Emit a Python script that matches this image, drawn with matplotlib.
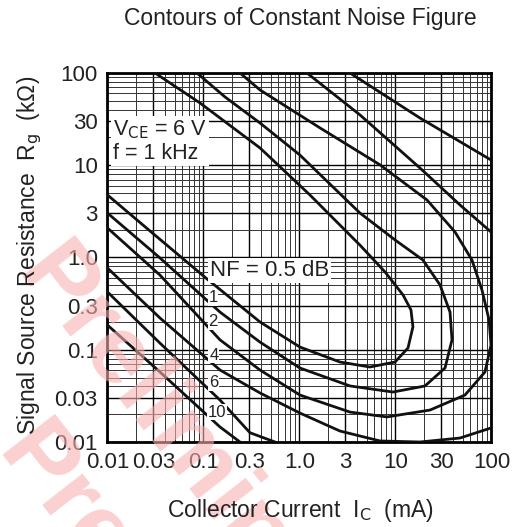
import matplotlib.pyplot as plt
import numpy as np

plt.rcParams['font.family'] = ['Liberation Sans', 'DejaVu Sans']

# contour data: collector current (mA), source resistance (kOhm)
nf05_ic = [0.01, 0.0277, 0.11, 0.388, 1.01, 2.64, 5.42, 9.89, 13.5, 15.2, 14.5, 12.0, 7.78, 4.27, 1.285, 0.388, 0.092, 0.0313]
nf05_rg = [4.76, 1.94, 0.58, 0.20, 0.107, 0.0736, 0.065, 0.0736, 0.1045, 0.177, 0.27, 0.392, 0.697, 1.36, 4.76, 15.4, 47.3, 100]

nf1_ic = [0.01, 0.0352, 0.1486, 0.388, 1.01, 3.36, 9.43, 20.3, 32.8, 38.8, 37.0, 29.1, 19.3, 9.89, 4.27, 1.01, 0.388, 0.1675, 0.0855]
nf1_rg = [3.03, 0.989, 0.256, 0.121, 0.0634, 0.0405, 0.0348, 0.0405, 0.0634, 0.128, 0.256, 0.504, 0.94, 1.55, 3.03, 12.9, 28.7, 55, 100]

nf2_ic = [0.01, 0.0352, 0.1486, 0.388, 1.01, 3.36, 8.15, 22.9, 53.0, 85.5, 98.9, 94.4, 79.6, 62.6, 41.7, 21.3, 6.90, 1.635, 0.388, 0.24]
nf2_rg = [2.09, 0.645, 0.128, 0.0603, 0.0323, 0.0211, 0.0187, 0.0222, 0.0323, 0.0574, 0.1125, 0.21, 0.445, 0.94, 1.89, 4.20, 10.1, 25.4, 65.5, 100]

nf4_lo_ic = [0.01, 0.0352, 0.1486, 0.388, 1.01, 2.64, 6.90, 18.0, 47.0, 98.9]
nf4_lo_rg = [0.769, 0.221, 0.0603, 0.034, 0.0206, 0.01315, 0.01026, 0.0100, 0.01104, 0.0142]
nf4_hi_ic = [1.197, 4.27, 18.0, 47.0, 98.9]
nf4_hi_rg = [100, 35.1, 9.33, 3.71, 1.89]

nf6_lo_ic = [0.01, 0.0352, 0.1486, 0.305, 0.556]
nf6_lo_rg = [0.423, 0.118, 0.0285, 0.0126, 0.01]
nf6_hi_ic = [3.36, 18.0, 98.9]
nf6_hi_rg = [100, 32.5, 11.4]

nf10_ic = [0.01, 0.0352, 0.1486, 0.24]
nf10_rg = [0.185, 0.0574, 0.01455, 0.01]

tick_vals = [0.01, 0.03, 0.1, 0.3, 1.0, 3, 10, 30, 100]
tick_labels = ['0.01', '0.03', '0.1', '0.3', '1.0', '3', '10', '30', '100']

# curve labels (text, x, y)
nf_labels = [('1', 0.126, 0.364), ('2', 0.126, 0.20), ('4', 0.128, 0.0877),
             ('6', 0.128, 0.0437), ('10', 0.138, 0.0211)]

fig = plt.figure(figsize=(5.18, 5.27), dpi=100)
ax = fig.add_axes([0.2075, 0.1613, 0.7413, 0.7002])
ax.set_facecolor('none')

# watermark behind everything
fig.text(0.0, 0.56, 'Preliminary', fontsize=70, fontweight='bold', color='#f9b0b0',
         alpha=0.6, rotation=-52, ha='left', va='top', zorder=0)
fig.text(-0.04, 0.22, 'Preliminary', fontsize=70, fontweight='bold', color='#f9b0b0',
         alpha=0.6, rotation=-52, ha='left', va='top', zorder=0)

ax.set_xscale('log')
ax.set_yscale('log')
ax.set_xlim(0.01, 100)
ax.set_ylim(0.01, 100)

ax.grid(True, which='major', color='black', lw=1.0)
ax.grid(True, which='minor', color='#333333', lw=0.7)
ax.set_axisbelow(True)

lw = 2.0
for xs, ys in [(nf05_ic, nf05_rg), (nf1_ic, nf1_rg), (nf2_ic, nf2_rg),
               (nf4_lo_ic, nf4_lo_rg), (nf4_hi_ic, nf4_hi_rg),
               (nf6_lo_ic, nf6_lo_rg), (nf6_hi_ic, nf6_hi_rg),
               (nf10_ic, nf10_rg)]:
    ax.plot(xs, ys, color='#111111', lw=lw, zorder=3)

ax.set_xticks(tick_vals)
ax.set_xticklabels(tick_labels)
ax.set_yticks(tick_vals)
ax.set_yticklabels(tick_labels)
ax.tick_params(which='both', length=0, labelsize=16, pad=7, colors='#222222')
for s in ax.spines.values():
    s.set_linewidth(2.0)

box = dict(facecolor='white', edgecolor='none', pad=1.5)
ax.text(0.0114, 18.1, 'V$_{\\mathrm{CE}}$ = 6 V\nf = 1 kHz', fontsize=15.5, va='center',
        ha='left', bbox=box, zorder=4, linespacing=1.1, color='#222222')
ax.text(0.117, 0.73, 'NF = 0.5 dB', fontsize=16, va='center', ha='left',
        bbox=box, zorder=4, color='#222222')
for t, x, y in nf_labels:
    ax.text(x, y, t, fontsize=12, va='center', ha='center',
            bbox=dict(facecolor='white', edgecolor='none', pad=0.5), zorder=4, color='#222222')

fig.text(0.58, 0.965, 'Contours of Constant Noise Figure', fontsize=16.5,
         ha='center', va='center', color='#222222')
fig.text(0.579, 0.032, 'Collector Current  I$_{\\mathrm{C}}$  (mA)', fontsize=16.5,
         ha='center', va='center', color='#222222')
fig.text(0.058, 0.516, 'Signal Source Resistance  R$_{\\mathrm{g}}$  (k\u03a9)', fontsize=16.5,
         ha='center', va='center', rotation=90, color='#222222')

fig.savefig('out.png', dpi=100)
